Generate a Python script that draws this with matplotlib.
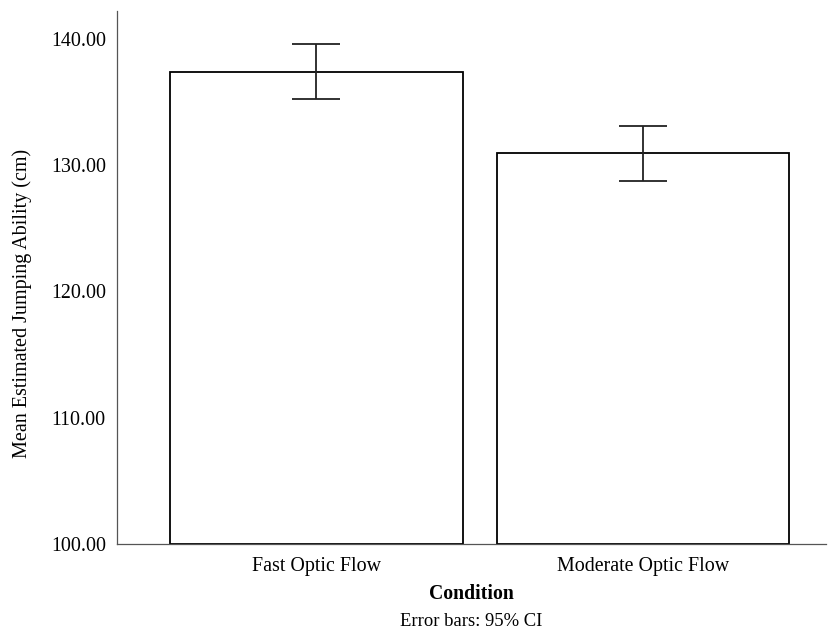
import matplotlib
matplotlib.use("Agg")
import matplotlib.pyplot as plt

categories = ["Fast Optic Flow", "Moderate Optic Flow"]
means = [137.35, 130.95]
ci_low = [135.2, 128.75]
ci_high = [139.55, 133.1]
yticks = [100, 110, 120, 130, 140]

plt.rcParams['font.family'] = ['Liberation Serif', 'DejaVu Serif']

fig = plt.figure(figsize=(8.32, 6.30), dpi=100)
ax = fig.add_axes([117/832, 1-544/630, (826-117)/832, (544-11)/630])

x = list(range(len(categories)))
yerr = [[m - l for m, l in zip(means, ci_low)], [h - m for m, h in zip(means, ci_high)]]
ax.bar(x, [m - 100 for m in means], bottom=100, width=0.896, color='white',
       edgecolor='black', linewidth=1.3, zorder=2)
ax.errorbar(x, means, yerr=yerr, fmt='none', ecolor='#222222', elinewidth=1.3,
            capsize=17.3, capthick=1.3, zorder=3)

ax.set_ylim(100, 142.2)
ax.set_xlim(-0.61, 1.56)
ax.set_yticks(yticks)
ax.set_yticklabels([f"{v:.2f}" for v in yticks], fontsize=14.4)
ax.set_xticks(x)
ax.set_xticklabels(categories, fontsize=14.4)
ax.tick_params(axis='y', length=0, pad=8)
ax.tick_params(axis='x', length=0, pad=9)
for s in ['top', 'right']:
    ax.spines[s].set_visible(False)
for s in ['left', 'bottom']:
    ax.spines[s].set_color('#555555')
    ax.spines[s].set_linewidth(0.9)

ax.set_ylabel("Mean Estimated Jumping Ability (cm)", fontsize=14.5)
ax.yaxis.set_label_coords(-0.12, 0.452)
ax.set_xlabel("Condition", fontsize=14.2, fontweight='bold', labelpad=6)
fig.text(0.5 * (117 + 826) / 832, 1 - 621/630, "Error bars: 95% CI", ha='center', va='center', fontsize=13.4)

fig.savefig("out.png", dpi=100)
